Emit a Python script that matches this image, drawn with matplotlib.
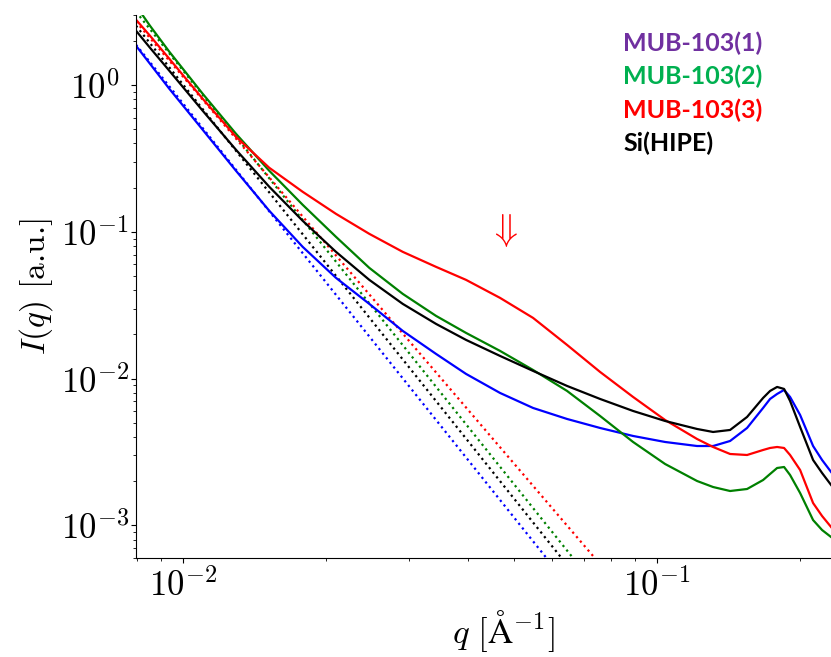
import numpy as np
import matplotlib
matplotlib.use("Agg")
import matplotlib.pyplot as plt

plt.rcParams['font.family'] = 'serif'
plt.rcParams['font.serif'] = ['cmr10', 'DejaVu Serif']
plt.rcParams['mathtext.fontset'] = 'cm'
plt.rcParams['axes.formatter.use_mathtext'] = True

# scattering vector q [1/A], shared grid for all samples
q = [0.007960, 0.008518, 0.009357, 0.011005, 0.012937, 0.015207, 0.017885,
     0.021025, 0.024718, 0.029079, 0.034179, 0.039541, 0.046643, 0.054752,
     0.064584, 0.075814, 0.088996, 0.10396, 0.12143, 0.13127, 0.14256,
     0.15482, 0.16735, 0.17311, 0.17914, 0.18530, 0.19078, 0.20031,
     0.21334, 0.22288, 0.23285]

I_mub1 = [1.853, 1.397, 0.9436, 0.4958, 0.2605, 0.1391, 0.07903, 0.04858,
          0.03230, 0.02114, 0.01474, 0.01077, 0.007989, 0.006314, 0.005312,
          0.004613, 0.004069, 0.003703, 0.003476, 0.003476, 0.003761, 0.004613,
          0.006314, 0.007272, 0.007865, 0.008376, 0.007504, 0.005656,
          0.003476, 0.002791, 0.002312]
I_mub2 = [3.472, 2.536, 1.687, 0.8722, 0.4656, 0.2605, 0.1528, 0.09245,
          0.05683, 0.03779, 0.02676, 0.02049, 0.01545, 0.01146, 0.008246,
          0.005568, 0.003703, 0.002622, 0.002008, 0.001827, 0.001716, 0.001771,
          0.002039, 0.002241, 0.002462, 0.002501, 0.002206, 0.001663,
          0.001088, 0.0009304, 0.0008335]
I_mub3 = [2.787, 2.168, 1.511, 0.8065, 0.4442, 0.2731, 0.1874, 0.1326,
          0.09691, 0.07306, 0.05774, 0.04708, 0.03549, 0.02593, 0.01697,
          0.01111, 0.007504, 0.005229, 0.003881, 0.003423, 0.003067, 0.003019,
          0.003266, 0.003370, 0.003423, 0.003370, 0.003019, 0.002386,
          0.001421, 0.001159, 0.0009752]
I_hipe = [2.345, 1.796, 1.252, 0.6681, 0.3622, 0.2027, 0.1189, 0.07306,
          0.04708, 0.03230, 0.02360, 0.01836, 0.01428, 0.01129, 0.008918,
          0.007272, 0.006023, 0.005148, 0.004541, 0.004332, 0.004470, 0.005482,
          0.007387, 0.008245, 0.008779, 0.008508, 0.007047, 0.004686,
          0.002791, 0.002276, 0.001886]

# low-q power law fits (end points)
fit_q_mub1 = [0.00796, 0.06122]
fit_I_mub1 = [1.883, 4.97e-4]
fit_q_mub2 = [0.00796, 0.06966]
fit_I_mub2 = [3.160, 4.97e-4]
fit_q_mub3 = [0.00796, 0.07768]
fit_I_mub3 = [2.701, 4.97e-4]
fit_q_hipe = [0.00796, 0.06587]
fit_I_hipe = [2.536, 4.97e-4]

labels = ['MUB-103(1)', 'MUB-103(2)', 'MUB-103(3)', 'Si(HIPE)']
label_colors = ['#7030A0', '#00B050', '#FF0000', 'black']
yticks = [1e-3, 1e-2, 1e-1, 1e0]
ytick_labels = [r'$10^{-3}$', r'$10^{-2}$', r'$10^{-1}$', r'$10^{0}$']

fig = plt.figure(figsize=(8.31, 6.57), dpi=100)
ax = fig.add_axes([0.16366, 0.15068, 0.8833, 0.82648])

ax.loglog(fit_q_mub1, fit_I_mub1, ':', color='b', lw=1.6)
ax.loglog(fit_q_hipe, fit_I_hipe, ':', color='k', lw=1.6)
ax.loglog(fit_q_mub2, fit_I_mub2, ':', color='g', lw=1.6)
ax.loglog(fit_q_mub3, fit_I_mub3, ':', color='r', lw=1.6)

ax.loglog(q, I_mub1, '-', color='b', lw=1.6)
ax.loglog(q, I_mub2, '-', color='g', lw=1.6)
ax.loglog(q, I_mub3, '-', color='r', lw=1.6)
ax.loglog(q, I_hipe, '-', color='k', lw=1.6)

ax.set_xlim(0.00796, 0.2813)
ax.set_ylim(6.0e-4, 3.0)
ax.set_yticks(yticks, labels=ytick_labels)
ax.spines['top'].set_visible(False)
ax.spines['right'].set_visible(False)
ax.tick_params(labelsize=25)
ax.tick_params(axis='y', pad=26)
for t in ax.get_yticklabels():
    t.set_horizontalalignment('center')

ax.set_xlabel(r'$q\ [\mathrm{\AA}^{-1}]$', fontsize=25, labelpad=4)
ax.set_ylabel(r'$I(q)$ [a.u.]', fontsize=24)
ax.yaxis.set_label_coords(-0.111, 0.5)

# arrow marking the shoulder of MUB-103(3)
ax.text(0.04732, 0.1016, r'$\Downarrow$', color='r', fontsize=27,
        ha='center', va='center')

ys = [51, 84.5, 118, 151.5]
for lab, c, y in zip(labels, label_colors, ys):
    fig.text(623 / 831, 1 - y / 657, lab, color=c, fontsize=18,
             fontweight='bold', family='Lato', va='baseline', ha='left')

fig.savefig('out.png', dpi=100)
